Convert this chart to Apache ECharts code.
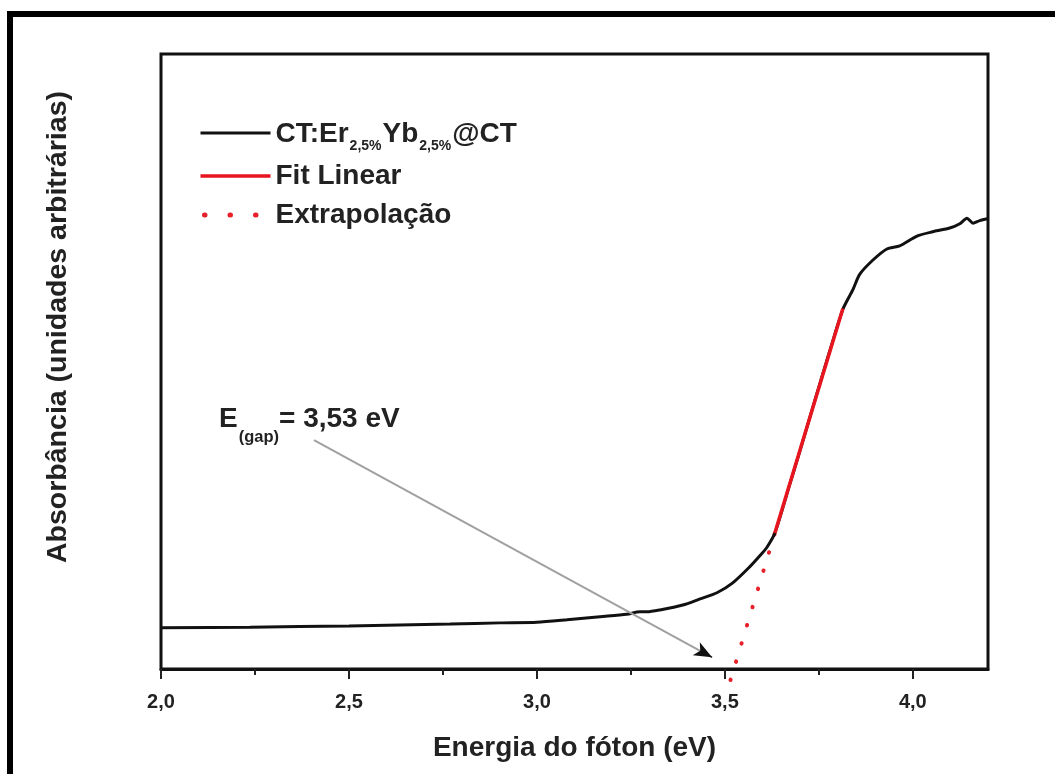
<!DOCTYPE html>
<html>
<head>
<meta charset="utf-8">
<script src="https://cdn.jsdelivr.net/npm/echarts@6/dist/echarts.min.js"></script>
<style>
html,body{margin:0;padding:0;background:#fff;}
#chart{width:1055px;height:774px;}
</style>
</head>
<body>
<div id="chart"></div>
<script>
// ---- data ----
const curveX = [2.000, 2.237, 2.500, 2.769, 2.902, 3.000, 3.080, 3.168, 3.239, 3.274, 3.293, 3.327, 3.388, 3.434, 3.479, 3.521, 3.566, 3.593, 3.612, 3.633, 3.673, 3.699, 3.739, 3.779, 3.814, 3.840, 3.859, 3.894, 3.931, 3.965, 4.011, 4.053, 4.098, 4.125, 4.144, 4.160, 4.178, 4.199];
const curveY = [6.7, 6.8, 7.0, 7.3, 7.5, 7.6, 8.0, 8.5, 8.9, 9.3, 9.3, 9.6, 10.4, 11.4, 12.4, 14.0, 16.6, 18.4, 19.8, 22.1, 30.1, 35.3, 43.6, 51.7, 58.5, 61.6, 64.2, 66.5, 68.3, 68.8, 70.4, 71.1, 71.7, 72.4, 73.3, 72.5, 72.9, 73.2];
const fitX = [3.633, 3.814];
const fitY = [22.1, 58.6];
const extrapX = [3.515, 3.633];
const extrapY = [-1.8, 22.1];
const arrowFrom = [2.407, 37.2];
const arrowTo = [3.466, 1.9];
const tickValues = [2.0, 2.5, 3.0, 3.5, 4.0];
const tickLabels = ['2,0', '2,5', '3,0', '3,5', '4,0'];
const seriesNames = ['CT:Er2,5%Yb2,5%@CT', 'Fit Linear', 'Extrapolação'];
const gapLabel = '3,53 eV';

const zip = (xs, ys) => xs.map((x, i) => [x, ys[i]]);
const FONT = 'Liberation Sans, Arial, sans-serif';
const TXT = '#222';

const chart = echarts.init(document.getElementById('chart'), null, {renderer: 'canvas'});

// a point a bit back along the arrow so the black head segment is short
const back = [arrowTo[0] - (arrowTo[0] - arrowFrom[0]) * 0.02, arrowTo[1] - (arrowTo[1] - arrowFrom[1]) * 0.02];

const hidden = {color: 'rgba(0,0,0,0)', borderWidth: 0, opacity: 0};

const option = {
  backgroundColor: '#fff',
  animation: false,
  grid: {left: 161, right: 67, top: 54, bottom: 105, show: true, borderColor: '#111', borderWidth: 3},
  xAxis: {
    type: 'value', min: 2.0, max: 4.2, interval: 0.5,
    axisLine: {show: true, lineStyle: {color: '#111', width: 3}},
    axisTick: {show: true, inside: false, length: 10, lineStyle: {color: '#222', width: 2}, customValues: tickValues},
    minorTick: {show: true, splitNumber: 2, length: 6, lineStyle: {color: '#222', width: 2}},
    splitLine: {show: false},
    axisLabel: {
      customValues: tickValues,
      margin: 23, color: TXT, fontFamily: FONT, fontWeight: 'bold', fontSize: 20,
      formatter: v => { const i = tickValues.findIndex(t => Math.abs(t - v) < 1e-6); return i >= 0 ? tickLabels[i] : ''; }
    },
    name: 'Energia do fóton (eV)', nameLocation: 'middle', nameGap: 65,
    nameTextStyle: {color: TXT, fontFamily: FONT, fontWeight: 'bold', fontSize: 28}
  },
  yAxis: {
    type: 'value', min: 0, max: 100,
    axisLine: {show: false}, axisTick: {show: false}, axisLabel: {show: false}, splitLine: {show: false}
  },
  legend: {
    orient: 'vertical', left: 193, top: 112, padding: 5, itemWidth: 70, itemHeight: 14, itemGap: 7,
    itemStyle: hidden,
    data: [
      {name: seriesNames[0], itemStyle: hidden, lineStyle: {width: 3, color: '#111'}},
      {name: seriesNames[1], itemStyle: hidden, lineStyle: {width: 3.5, color: '#e8141e'}},
      {name: seriesNames[2], itemStyle: hidden, lineStyle: {type: [0.5, 25], width: 5, cap: 'round', dashOffset: -4, color: '#e8202a'}}
    ],
    textStyle: {
      color: TXT, fontFamily: FONT, fontWeight: 'bold', fontSize: 28, lineHeight: 32,
      rich: {
        b: {color: TXT, fontFamily: FONT, fontWeight: 'bold', fontSize: 28, lineHeight: 32, padding: [3, 0, 0, 0], verticalAlign: 'top'},
        s: {color: TXT, fontFamily: FONT, fontWeight: 'bold', fontSize: 14, lineHeight: 16, padding: [22, 1, 0, 1], verticalAlign: 'top'}
      }
    },
    formatter: name => {
      if (name === seriesNames[0]) return '{b|CT:Er}{s|2,5%}{b|Yb}{s|2,5%}{b|@CT}';
      return name;
    }
  },
  graphic: [
    {type: 'rect', z: -10, silent: true, shape: {x: 10, y: 14, width: 1200, height: 900}, style: {fill: 'none', stroke: '#000', lineWidth: 6}},
    {type: 'text', silent: true, x: 58, y: 327, rotation: Math.PI / 2,
      style: {text: 'Absorbância (unidades arbitrárias)', fill: TXT, font: 'bold 28.5px ' + FONT, align: 'center', verticalAlign: 'middle'}},
    {type: 'text', silent: true, x: 219, y: 405,
      style: {
        text: '{b|E}{s|(gap)}{b|= ' + gapLabel + '}', fill: TXT, font: 'bold 28px ' + FONT, align: 'left', verticalAlign: 'top',
        rich: {
          b: {fill: TXT, font: 'bold 28px ' + FONT, lineHeight: 32, verticalAlign: 'top'},
          s: {fill: TXT, font: 'bold 16.5px ' + FONT, lineHeight: 17, padding: [24, 0, 0, 1], verticalAlign: 'top'}
        }
      }}
  ],
  series: [
    {
      name: seriesNames[0], type: 'line', data: zip(curveX, curveY), showSymbol: false, symbol: 'none', smooth: 0.25,
      lineStyle: {color: '#111', width: 3}, itemStyle: {color: '#111'}, z: 3
    },
    {
      name: seriesNames[1], type: 'line', data: zip(fitX, fitY), showSymbol: false, symbol: 'none',
      lineStyle: {color: '#e8141e', width: 3.5}, itemStyle: {color: '#e8141e'}, z: 4
    },
    {
      name: seriesNames[2], type: 'line', data: zip(extrapX, extrapY), showSymbol: false, symbol: 'none', clip: false,
      lineStyle: {color: '#e8202a', width: 4, type: [0.5, 18.5], cap: 'round'}, itemStyle: {color: '#e8202a'}, z: 2
    },
    {
      name: 'arrow', type: 'line', data: [], z: 5,
      markLine: {
        silent: true, animation: false, label: {show: false},
        data: [
          [{coord: arrowFrom, symbol: 'none', lineStyle: {color: '#a0a0a0', width: 2, type: 'solid'}},
           {coord: arrowTo, symbol: 'none'}],
          [{coord: back, symbol: 'none', lineStyle: {color: '#111', width: 1, type: 'solid'}},
           {coord: arrowTo, symbol: 'arrow', symbolSize: [11, 18]}]
        ]
      }
    }
  ]
};
chart.setOption(option);
</script>
</body>
</html>
